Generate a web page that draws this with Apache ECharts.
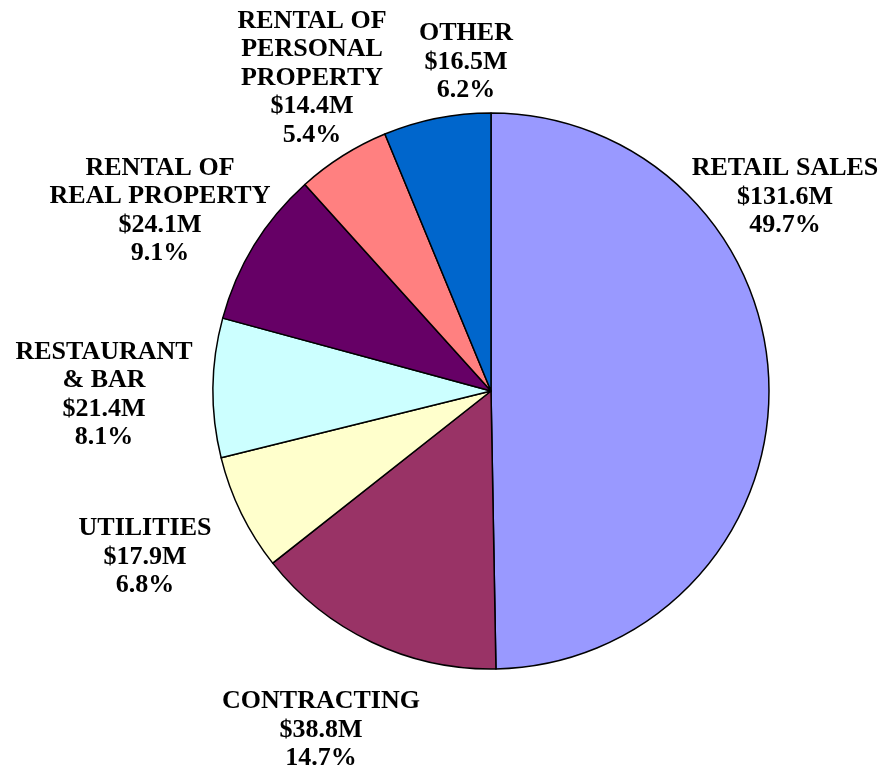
<!DOCTYPE html>
<html>
<head>
<meta charset="utf-8">
<script src="https://cdn.jsdelivr.net/npm/echarts@6/dist/echarts.min.js"></script>
<style>
  html, body { margin: 0; padding: 0; background: #fff; }
  #chart { width: 888px; height: 780px; }
</style>
</head>
<body>
<div id="chart"></div>
<script>
const categories = ['RETAIL SALES', 'CONTRACTING', 'UTILITIES', 'RESTAURANT\n& BAR', 'RENTAL OF\nREAL PROPERTY', 'RENTAL OF\nPERSONAL\nPROPERTY', 'OTHER']
const values = [131.6, 38.8, 17.9, 21.4, 24.1, 14.4, 16.5]
const colors = ['#9999FF', '#993366', '#FFFFCC', '#CCFFFF', '#660066', '#FF8080', '#0066CC']

// label centers, same order as categories
const labelPos = [
    [785, 197], [321, 730], [145, 557], [104, 395], [160, 211], [312, 78], [466, 62]
]

const chart = echarts.init(document.getElementById('chart'))
chart.setOption({
    animation: false,
    backgroundColor: '#fff',
    series: [
        {
            type: 'pie',
            center: [491, 391],
            radius: 278,
            startAngle: 90,
            clockwise: true,
            percentPrecision: 1,
            data: categories.map((name, i) => ({
                name: name,
                value: values[i],
                itemStyle: { color: colors[i] }
            })),
            itemStyle: {
                borderColor: '#000',
                borderWidth: 1.5
            },
            emphasis: { disabled: true },
            labelLine: { show: false },
            label: {
                show: true,
                position: 'outside',
                overflow: 'none',
                fontFamily: '"Liberation Serif", "Times New Roman", serif',
                fontWeight: 'bold',
                fontSize: 26,
                lineHeight: 28.5,
                color: '#000',
                formatter: p => `${p.name}\n$${p.value.toFixed(1)}M\n${p.percent.toFixed(1)}%`
            },
            labelLayout: p => ({
                x: labelPos[p.dataIndex][0],
                y: labelPos[p.dataIndex][1],
                align: 'center',
                verticalAlign: 'middle'
            })
        }
    ]
})
</script>
</body>
</html>
